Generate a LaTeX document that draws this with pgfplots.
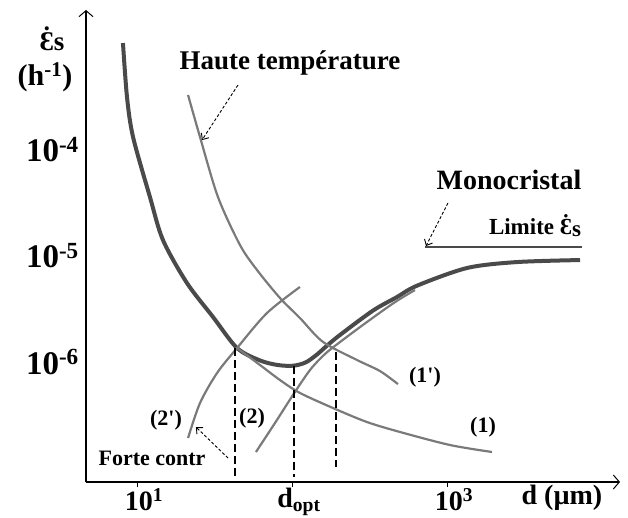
\documentclass[border=0pt]{standalone}
\usepackage{pgfplots}
\pgfplotsset{compat=1.18}
\usepackage{fontspec}
\setmainfont{Liberation Serif}
\usetikzlibrary{arrows.meta}

\definecolor{thickc}{HTML}{4A4A4A}
\definecolor{thinc}{HTML}{7A7A7A}
\newcommand{\fs}[1]{\fontsize{#1}{#1}\selectfont\bfseries}
% open epsilon with a dot above
\newcommand{\edot}{\ooalign{Ɛ\cr\hidewidth\raisebox{0.2em}{˙}\hidewidth}}

% x = log10 d (um), y = log10 of the creep rate (h^-1)
\begin{document}
\begin{tikzpicture}
\useasboundingbox (-86pt,-35pt) rectangle (542pt,482pt);
\begin{axis}[
  scale only axis, width=534pt, height=472pt,
  xmin=0.6645, xmax=4.11, ymin=-7.132, ymax=-2.679,
  axis lines=left,
  axis line style={line width=1.1pt, black},
  x axis line style={-{Straight Barb[length=6pt,width=14pt,line width=1pt]}},
  y axis line style={-{Straight Barb[length=6pt,width=14pt,line width=1pt]}},
  xtick={1,2,3},
  xticklabels={10\textsuperscript{1}, d\textsubscript{opt}, 10\textsuperscript{3}},
  ytick={-4,-5,-6},
  yticklabels={10\textsuperscript{-4},10\textsuperscript{-5},10\textsuperscript{-6}},
  tick align=outside, major tick length=5pt,
  xtick style={line width=1pt, black},
  ytick style={draw=none},
  xticklabel style={font=\fs{28}, inner sep=1pt, xshift=6pt},
  yticklabel style={font=\fs{33}, inner sep=2pt},
  clip=false,
]
% total (thick) curve
\addplot[thickc, line width=4pt, smooth] coordinates {
  (0.903,-2.991) (0.929,-3.500) (0.968,-3.877) (1.077,-4.443) (1.161,-4.849)
  (1.316,-5.255) (1.484,-5.575) (1.639,-5.868) (1.787,-5.985) (1.900,-6.028)
  (2.000,-6.035) (2.080,-6.005) (2.150,-5.935) (2.220,-5.845) (2.303,-5.745)
  (2.516,-5.515) (2.671,-5.387) (2.800,-5.280) (3.123,-5.113) (3.445,-5.057)
  (3.852,-5.038)
};
% (1)
\addplot[thinc, line width=2.2pt, smooth] coordinates {
  (1.639,-5.868) (1.787,-6.028) (1.916,-6.170) (2.045,-6.292) (2.258,-6.434)
  (2.477,-6.566) (2.690,-6.660) (3.013,-6.783) (3.284,-6.849)
};
% (1') haute temperature
\addplot[thinc, line width=2.2pt, smooth] coordinates {
  (1.323,-3.481) (1.400,-3.877) (1.516,-4.443) (1.658,-4.896) (1.768,-5.132)
  (1.916,-5.396) (2.045,-5.585) (2.194,-5.811) (2.413,-5.981) (2.561,-6.085)
  (2.677,-6.208)
};
% (2')
\addplot[thinc, line width=2.2pt, smooth] coordinates {
  (1.323,-6.717) (1.400,-6.387) (1.510,-6.104) (1.639,-5.868) (1.832,-5.538)
  (2.045,-5.292)
};
% (2)
\addplot[thinc, line width=2.2pt, smooth] coordinates {
  (1.761,-6.849) (1.884,-6.575) (2.000,-6.311) (2.110,-6.075) (2.206,-5.925)
  (2.303,-5.812) (2.477,-5.623) (2.658,-5.435) (2.787,-5.321)
};
% limite monocristal
\addplot[thickc, line width=2.6pt] coordinates {(2.852,-4.915) (3.865,-4.915)};
% dashed verticals
\addplot[black, line width=1.3pt, dash pattern=on 8pt off 4pt] coordinates {(1.626,-5.868) (1.626,-7.085)};
\addplot[black, line width=1.3pt, dash pattern=on 8pt off 4pt] coordinates {(2.006,-6.038) (2.006,-7.085)};
\addplot[black, line width=1.3pt, dash pattern=on 8pt off 4pt] coordinates {(2.277,-5.906) (2.277,-6.991)};
% annotation arrows
\draw[black, line width=0.9pt, densely dashed, -{Straight Barb[length=5pt,width=9pt]}]
  (axis cs:1.645,-3.387) -- (axis cs:1.413,-3.906);
\draw[black, line width=0.9pt, densely dashed, -{Straight Barb[length=5pt,width=9pt]}]
  (axis cs:3.0,-4.5) -- (axis cs:2.858,-4.906);
\draw[black, line width=0.9pt, densely dashed, -{Straight Barb[length=5pt,width=9pt]}]
  (axis cs:1.581,-6.906) -- (axis cs:1.374,-6.613);
\end{axis}
\node[font=\fs{27}] at (204pt,419pt) {Haute température};
\node[font=\fs{28}] at (423pt,302pt) {Monocristal};
\node[font=\fs{23}] at (449pt,254pt) {Limite \edot\raisebox{-2pt}{s}};
\node[font=\fs{22}] at (339pt,105pt) {(1\textquotesingle)};
\node[font=\fs{22}] at (397pt,55pt) {(1)};
\node[font=\fs{22}] at (80pt,62pt) {(2\textquotesingle)};
\node[font=\fs{22}] at (166pt,64pt) {(2)};
\node[font=\fs{22}] at (66pt,24pt) {Forte contr};
\node[font=\fs{28}] at (476pt,-16pt) {d (µm)};
\node[font=\fs{27}] at (-34pt,440pt) {\edot s};
\node[font=\fs{30}] at (-41pt,405pt) {(h\textsuperscript{-1})};
\end{tikzpicture}
\end{document}
